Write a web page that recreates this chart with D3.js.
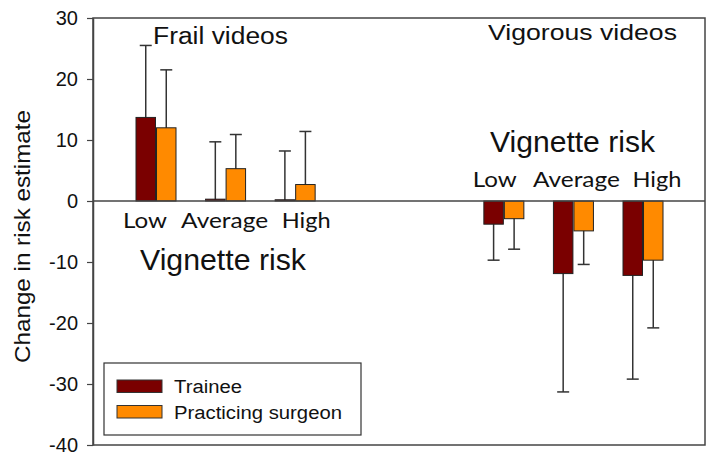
<!DOCTYPE html>
<html>
<head>
<meta charset="utf-8">
<script src="https://cdn.jsdelivr.net/npm/d3@7"></script>
<style>
  body { margin: 0; background: #fff; }
  text { font-family: Arial, "Liberation Sans", sans-serif; fill: #111; }
</style>
</head>
<body>
<svg width="714" height="462"></svg>
<script>
// chart data
const videoTypes = ['Frail', 'Vigorous']
const riskLevels = ['Low', 'Average', 'High']
const seriesNames = ['Trainee', 'Practicing surgeon']
const seriesColors = ['#7a0000', '#ff8a00']

// mean change, one value per risk level
const traineeFrail = [13.7, 0.3, 0.2]
const surgeonFrail = [12.0, 5.3, 2.7]
const traineeVigorous = [-3.8, -11.9, -12.2]
const surgeonVigorous = [-2.9, -4.9, -9.7]

// end of the one-sided error bar
const traineeFrailErr = [25.5, 9.7, 8.2]
const surgeonFrailErr = [21.5, 10.9, 11.4]
const traineeVigorousErr = [-9.7, -31.3, -29.2]
const surgeonVigorousErr = [-7.9, -10.4, -20.8]

const yTicks = [30, 20, 10, 0, -10, -20, -30, -40]

function main() {
  const svg = d3.select('svg')
  const left = 93, right = 705, top = 18, bottom = 445

  const yScale = d3.scaleLinear().domain([-40, 30]).range([bottom, top])
  // slot index: frail groups 0..2, vigorous groups 5..7
  const xScale = d3.scaleLinear().domain([0, 7]).range([156, 643])
  const inner = d3.scaleBand().domain(seriesNames).range([-20, 20]).paddingInner(0.05)

  const values = {
    Frail: [traineeFrail, surgeonFrail],
    Vigorous: [traineeVigorous, surgeonVigorous]
  }
  const errs = {
    Frail: [traineeFrailErr, surgeonFrailErr],
    Vigorous: [traineeVigorousErr, surgeonVigorousErr]
  }

  const rows = []
  videoTypes.forEach((v, vi) => {
    riskLevels.forEach((r, ri) => {
      seriesNames.forEach((s, si) => {
        rows.push({
          slot: vi * 5 + ri,
          series: s,
          color: seriesColors[si],
          value: values[v][si][ri],
          err: errs[v][si][ri]
        })
      })
    })
  })

  // frame
  svg.append('rect')
    .attr('x', left).attr('y', top)
    .attr('width', right - left).attr('height', bottom - top)
    .attr('fill', 'none').attr('stroke', '#444').attr('stroke-width', 1.5)

  // y axis (plain hyphen for negatives, like the original)
  const yAxis = svg.append('g')
    .attr('transform', 'translate(' + left + ',0)')
    .call(d3.axisLeft(yScale).tickValues(yTicks).tickFormat(d => String(d))
      .tickSize(6).tickSizeOuter(0).tickPadding(9))
  yAxis.select('.domain').attr('stroke', '#444').attr('stroke-width', 1.5)
  yAxis.selectAll('.tick line').attr('stroke', '#444').attr('stroke-width', 1.2)
  yAxis.selectAll('.tick text')
    .attr('font-size', 20)
    .attr('font-family', 'Arial, "Liberation Sans", sans-serif')
    .attr('fill', '#111')

  // y title
  svg.append('text')
    .attr('transform', 'translate(30,' + ((top + bottom) / 2 + 5) + ') rotate(-90)')
    .attr('text-anchor', 'middle')
    .attr('font-size', 22)
    .attr('textLength', 253)
    .attr('lengthAdjust', 'spacingAndGlyphs')
    .text('Change in risk estimate')

  // error bars (drawn first, bars cover the part inside)
  const eb = svg.append('g').attr('stroke', '#333').attr('stroke-width', 1.5)
  rows.forEach(d => {
    const cx = xScale(d.slot) + inner(d.series) + inner.bandwidth() / 2
    eb.append('line')
      .attr('x1', cx).attr('x2', cx)
      .attr('y1', yScale(0)).attr('y2', yScale(d.err))
    eb.append('line')
      .attr('x1', cx - 6).attr('x2', cx + 6)
      .attr('y1', yScale(d.err)).attr('y2', yScale(d.err))
  })

  // bars
  svg.selectAll('.bar')
    .data(rows)
    .enter()
    .append('rect')
    .attr('class', 'bar')
    .attr('x', d => xScale(d.slot) + inner(d.series))
    .attr('y', d => yScale(Math.max(0, d.value)))
    .attr('width', inner.bandwidth())
    .attr('height', d => Math.abs(yScale(d.value) - yScale(0)))
    .attr('fill', d => d.color)
    .attr('stroke', '#222')
    .attr('stroke-width', 1)

  // zero line
  svg.append('line')
    .attr('x1', left).attr('x2', right)
    .attr('y1', yScale(0)).attr('y2', yScale(0))
    .attr('stroke', '#444').attr('stroke-width', 1.5)

  // panel titles
  svg.append('text').attr('x', 153).attr('y', 44)
    .attr('font-size', 23).attr('textLength', 135).attr('lengthAdjust', 'spacingAndGlyphs')
    .text('Frail videos')
  svg.append('text').attr('x', 488).attr('y', 40)
    .attr('font-size', 22).attr('textLength', 189).attr('lengthAdjust', 'spacingAndGlyphs')
    .text('Vigorous videos')

  // vignette risk captions
  svg.append('text').attr('x', 140).attr('y', 270)
    .attr('font-size', 29).attr('textLength', 166).attr('lengthAdjust', 'spacingAndGlyphs')
    .text('Vignette risk')
  svg.append('text').attr('x', 490).attr('y', 152)
    .attr('font-size', 29).attr('textLength', 165).attr('lengthAdjust', 'spacingAndGlyphs')
    .text('Vignette risk')

  // risk level labels
  const frailOffsets = [-11, -1, 11]
  const vigOffsets = [-9, 3, 14]
  const widths = [44, 87, 49]
  riskLevels.forEach((r, ri) => {
    svg.append('text')
      .attr('x', xScale(ri) + frailOffsets[ri]).attr('y', 228)
      .attr('text-anchor', 'middle')
      .style('font-family', 'Lato, "Open Sans", sans-serif')
      .attr('font-size', 22)
      .attr('textLength', widths[ri]).attr('lengthAdjust', 'spacingAndGlyphs')
      .text(r)
    svg.append('text')
      .attr('x', xScale(5 + ri) + vigOffsets[ri]).attr('y', 187)
      .attr('text-anchor', 'middle')
      .style('font-family', 'Lato, "Open Sans", sans-serif')
      .attr('font-size', 22)
      .attr('textLength', widths[ri]).attr('lengthAdjust', 'spacingAndGlyphs')
      .text(r)
  })

  // legend
  const lg = svg.append('g').attr('transform', 'translate(104,363)')
  lg.append('rect')
    .attr('width', 257).attr('height', 72)
    .attr('fill', '#fff').attr('stroke', '#333').attr('stroke-width', 1.2)
  const legendWidths = [68, 168]
  seriesNames.forEach((s, i) => {
    lg.append('rect')
      .attr('x', 13).attr('y', 17 + i * 25.5)
      .attr('width', 45).attr('height', 12.5)
      .attr('fill', seriesColors[i]).attr('stroke', '#333').attr('stroke-width', 1)
    lg.append('text')
      .attr('x', 70).attr('y', 30 + i * 25.5)
      .attr('font-size', 18)
      .attr('textLength', legendWidths[i]).attr('lengthAdjust', 'spacingAndGlyphs')
      .text(s)
  })
}
main()
</script>
</body>
</html>
